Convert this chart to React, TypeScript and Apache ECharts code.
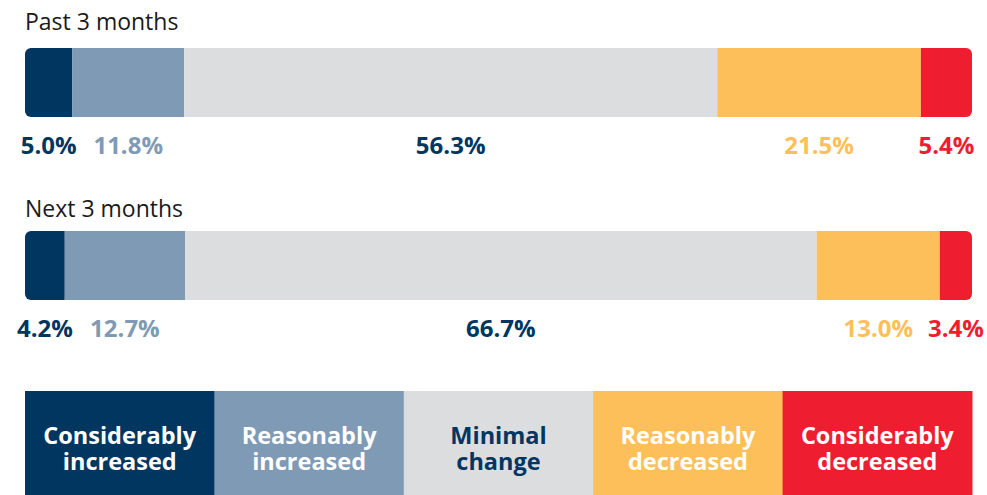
import React, { useEffect, useRef } from "react";
import * as echarts from "echarts";

const categories = ["Past 3 months", "Next 3 months"];
const seriesNames = [
  "Considerably increased",
  "Reasonably increased",
  "Minimal change",
  "Reasonably decreased",
  "Considerably decreased",
];
const legendLabels = [
  ["Considerably", "increased"],
  ["Reasonably", "increased"],
  ["Minimal", "change"],
  ["Reasonably", "decreased"],
  ["Considerably", "decreased"],
];
const considerablyIncreased = [5.0, 4.2];
const reasonablyIncreased = [11.8, 12.7];
const minimalChange = [56.3, 66.7];
const reasonablyDecreased = [21.5, 13.0];
const considerablyDecreased = [5.4, 3.4];

const seriesValues = [
  considerablyIncreased,
  reasonablyIncreased,
  minimalChange,
  reasonablyDecreased,
  considerablyDecreased,
];

const fills = ["#00365F", "#7F9AB5", "#DCDDDF", "#FCBF5A", "#EE1D30"];
const labelColors = ["#00365F", "#7F9AB5", "#00365F", "#FCBF5A", "#EE1D30"];
const legendTextColors = ["#FFFFFF", "#FFFFFF", "#00365F", "#FFFFFF", "#FFFFFF"];

const FONT = '"Open Sans", "Noto Sans", sans-serif';

export default function App() {
  const ref = useRef<HTMLDivElement>(null);

  useEffect(() => {
    document.body.style.margin = "0";
    if (!ref.current) return;
    const chart = echarts.init(ref.current, null, { renderer: "svg" });

    const W = 987;
    const gridLeft = 25;
    const gridRight = 15;
    const plotW = W - gridLeft - gridRight;
    const barW = 69;
    const barTop0 = 48;
    const barStep = 183;

    const n = seriesNames.length;
    const cellW = plotW / n;
    const legendTop = 391;
    const legendH = 104;

    const graphics: any[] = [];
    categories.forEach((c, i) => {
      graphics.push({
        type: "text",
        x: gridLeft,
        y: 21 + i * 187,
        style: {
          text: c,
          fill: "#1A1A1A",
          font: `23px ${FONT}`,
          align: "left",
          textAlign: "left",
          verticalAlign: "middle",
          textVerticalAlign: "middle",
        },
      });
    });
    legendLabels.forEach((lines, i) => {
      graphics.push({
        type: "rect",
        shape: { x: gridLeft + i * cellW, y: legendTop, width: cellW + 0.5, height: legendH },
        style: { fill: fills[i] },
      });
      lines.forEach((t, j) => {
        graphics.push({
          type: "text",
          x: gridLeft + (i + 0.5) * cellW,
          y: 435 + j * 26,
          style: {
            text: t,
            fill: legendTextColors[i],
            font: `bold 23.5px ${FONT}`,
            align: "center",
            textAlign: "center",
            verticalAlign: "middle",
            textVerticalAlign: "middle",
          },
        });
      });
    });

    const option: any = {
      animation: false,
      grid: {
        left: gridLeft,
        right: gridRight,
        top: barTop0 + barW / 2,
        height: barStep,
      },
      xAxis: { type: "value", min: 0, max: 100, show: false },
      yAxis: {
        type: "category",
        data: categories,
        inverse: true,
        boundaryGap: false,
        show: false,
      },
      series: seriesNames.map((name, i) => ({
        type: "bar",
        name,
        stack: "total",
        data: seriesValues[i],
        barWidth: barW,
        silent: true,
        itemStyle: {
          color: fills[i],
          borderRadius: i === 0 ? [6, 0, 0, 6] : i === n - 1 ? [0, 6, 6, 0] : 0,
        },
        label: {
          show: true,
          position: "bottom",
          distance: 15,
          formatter: (p: any) => Number(p.value).toFixed(1) + "%",
          color: labelColors[i],
          fontFamily: FONT,
          fontWeight: "bold",
          fontSize: 24,
        },
      })),
      graphic: graphics,
    };

    chart.setOption(option);
    return () => chart.dispose();
  }, []);

  return <div ref={ref} style={{ width: 987, height: 495 }} />;
}
